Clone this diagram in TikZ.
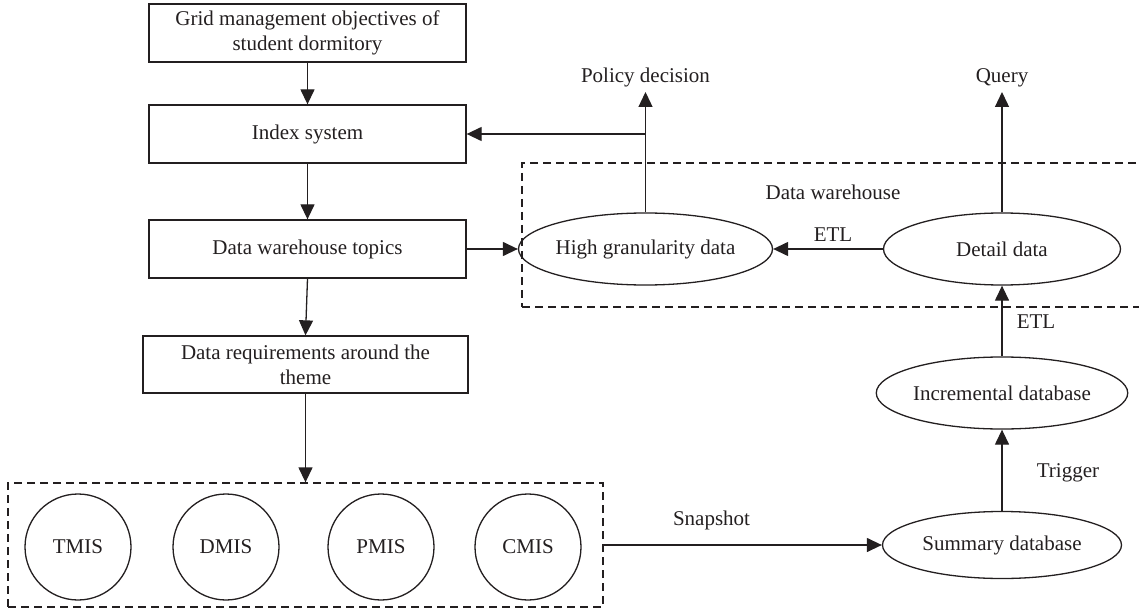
\documentclass[tikz,border=0pt]{standalone}
\usepackage{fontspec}
\setmainfont{Liberation Serif}
\usetikzlibrary{arrows.meta,shapes.geometric,calc}
\definecolor{ink}{HTML}{231F20}
\begin{document}
\begin{tikzpicture}[x=1pt,y=-1pt,
  every node/.style={font=\fontsize{21}{25}\selectfont, text=ink},
  line/.style={draw=ink, line width=1.3pt},
  arr/.style={line, -{Triangle[length=15pt,width=14pt]}},
  box/.style={line, rectangle, align=center, inner sep=0pt},
  oval/.style={line, ellipse, inner sep=0pt},
  sys/.style={line, circle, minimum size=106pt, inner sep=0pt},
  frame/.style={draw=ink, line width=1.3pt, dash pattern=on 8pt off 5pt, inner sep=0pt},
  lbl/.style={inner sep=0pt}]
\useasboundingbox (0,0) rectangle (1139,612);
\clip (0,0) rectangle (1139,612);

% left column of planning steps
\node[box, minimum width=317pt, minimum height=58pt] (grid) at (307.5,33)
  {Grid management objectives of\\student dormitory};
\node[box, minimum width=317pt, minimum height=58pt] (index) at (307.5,134) {Index system};
\node[box, minimum width=317pt, minimum height=58pt] (topics) at (307.5,249) {Data warehouse topics};
\node[box, minimum width=325pt, minimum height=57pt] (req) at (305.5,364.5)
  {Data requirements around the\\theme};

% source systems
\node[frame, minimum width=595pt, minimum height=124pt] (src) at (305.5,545) {};
\node[sys] (tmis) at (78,547) {TMIS};
\node[sys] (dmis) at (226,547) {DMIS};
\node[sys] (pmis) at (381,547) {PMIS};
\node[sys] (cmis) at (528,547) {CMIS};

% data warehouse
\node[frame, minimum width=638pt, minimum height=144pt] (dw) at (841,235) {};
\node[lbl] (dwlabel) at (833,192) {Data warehouse};
\node[oval, minimum width=237pt, minimum height=72pt] (high) at (645.5,249) {High granularity data};
\node[oval, minimum width=237pt, minimum height=72pt] (detail) at (1002,249) {Detail data};

% staging databases
\node[oval, minimum width=239pt, minimum height=72pt] (incr) at (1002,393) {Incremental database};
\node[oval, minimum width=239pt, minimum height=67pt] (summ) at (1002,545) {Summary database};

% outputs
\node[inner sep=5pt, anchor=south] (policy) at (645.5,92) {Policy decision};
\node[inner sep=5pt, anchor=south] (query) at (1002,92) {Query};

% edge labels
\node[lbl] (etlh) at (833,235) {ETL};
\node[lbl] (etlv) at (1036,322) {ETL};
\node[lbl] (trig) at (1068,473) {Trigger};
\node[lbl] (snap) at (711.5,520) {Snapshot};

% connectors
\draw[arr] (grid) -- (index);
\draw[arr] (index) -- (topics);
\draw[arr] (topics.south) -- (req.north);
\draw[arr] (req.south) -- (req.south |- src.north);
\draw[arr] (topics.east) -- (high.west);
\draw[arr] (high.north) -- (policy.south);
\coordinate (jn) at (high.north |- index.east);
\draw[arr] (jn) -- (index.east);
\draw[arr] (detail.north) -- (query.south);
\draw[arr] (detail.west) -- (high.east);
\draw[arr] (incr.north) -- (detail.south);
\draw[arr] (summ.north) -- (incr.south);
\draw[arr] (src.east |- summ.west) -- (summ.west);
\end{tikzpicture}
\end{document}
